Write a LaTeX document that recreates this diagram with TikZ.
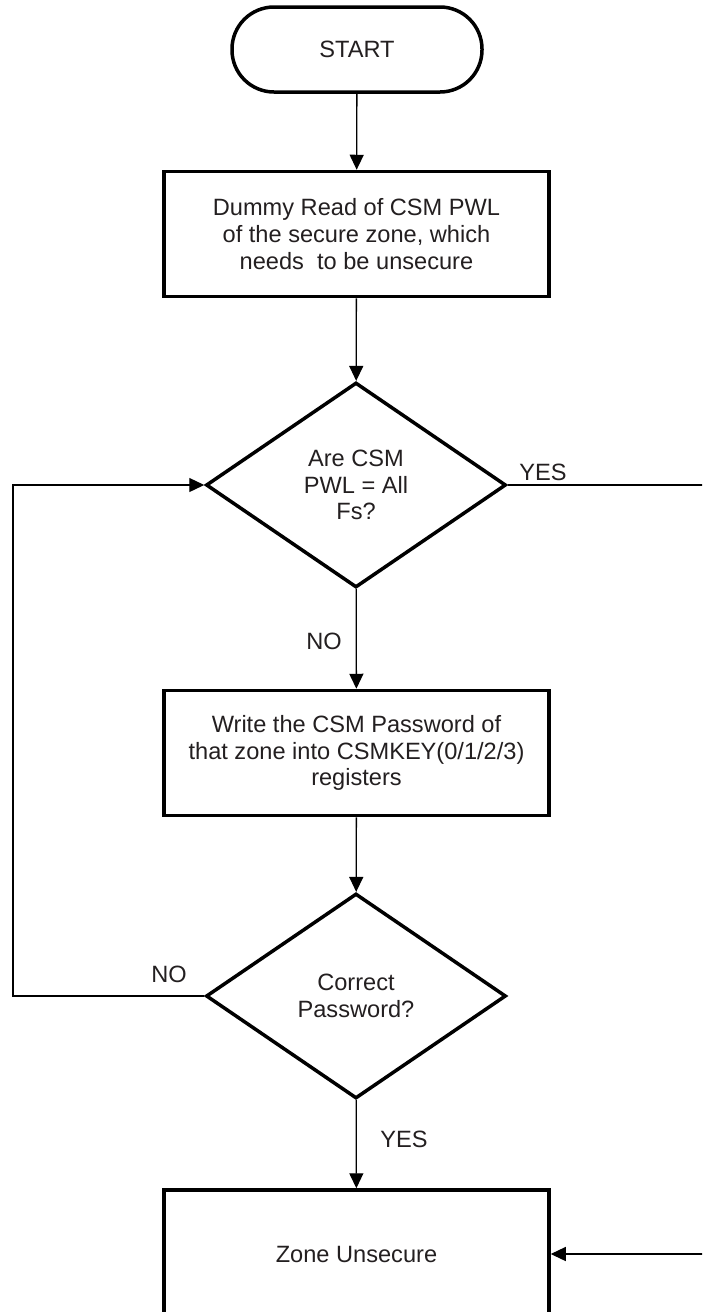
\documentclass[tikz,border=0pt]{standalone}
\usepackage{fontspec}
\setmainfont{Liberation Sans}
\usetikzlibrary{shapes.geometric,arrows.meta}
\definecolor{txt}{HTML}{231F20}
\begin{document}
\begin{tikzpicture}[x=1pt,y=-1pt,
  every node/.style={font=\fontsize{23.6}{26.6}\selectfont, text=txt},
  pill/.style={draw, line width=3.5pt, rounded corners=42pt, minimum width=250pt, minimum height=85pt, inner sep=0pt},
  procbox/.style={draw, line width=3.5pt, minimum width=385pt, minimum height=125pt, align=center, inner sep=0pt},
  decis/.style={draw, diamond, line width=3.5pt, minimum width=300pt, minimum height=205pt, align=center, inner sep=0pt},
  conn/.style={line width=1.3pt, -{Triangle[length=15pt,width=14pt]}},
  lbl/.style={inner sep=0pt}
]
\useasboundingbox (0,0) rectangle (702,1312);
\clip (0,0) rectangle (702,1312);

\node[pill] (start) at (357,49.5) {START};
\node[procbox] (box1) at (356.5,234) {Dummy Read of CSM PWL\\of the secure zone, which\\needs~ to be unsecure};
\node[decis] (d1) at (356,485) {Are CSM\\PWL = All\\Fs?};
\node[procbox] (box2) at (356.5,753) {Write the CSM Password of\\that zone into CSMKEY(0/1/2/3)\\registers};
\node[decis] (d2) at (356,996) {Correct\\Password?};
\node[procbox, minimum height=128pt] (box3) at (356.5,1254) {Zone Unsecure};

\coordinate (lp) at (13,740);
\coordinate (rp) at (730,800);

\draw[conn] (start) -- (box1);
\draw[conn] (box1) -- (d1);
\draw[conn] (d1) -- (box2);
\draw[conn] (box2) -- (d2);
\draw[conn] (d2) -- (box3);
\draw[conn] (d2.west) -| (lp) |- (d1.west);
\draw[conn] (d1.east) -| (rp) |- (box3.east);

\node[lbl] (no1) at (324,641) {NO};
\node[lbl] (no2) at (169,974) {NO};
\node[lbl] (yes1) at (543,472) {YES};
\node[lbl] (yes2) at (404,1139) {YES};
\end{tikzpicture}
\end{document}
